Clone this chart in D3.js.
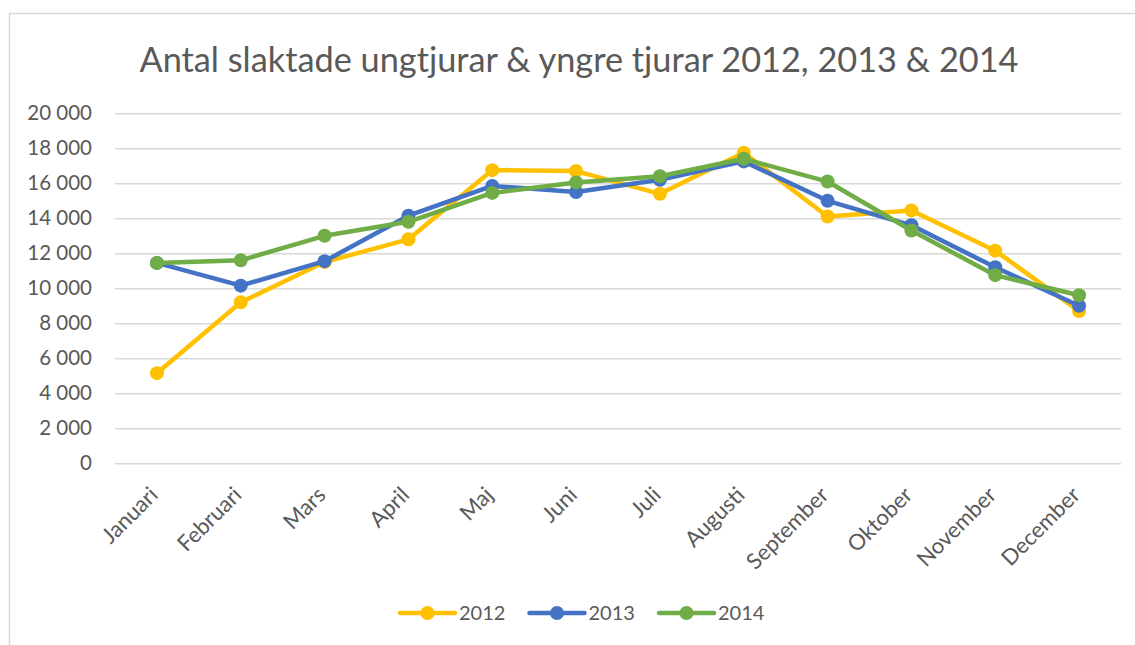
<!DOCTYPE html>
<html>
<head>
<meta charset="utf-8">
<script src="https://cdn.jsdelivr.net/npm/d3@7"></script>
<style>
	body { margin: 0; background: #fff; }
	text { font-family: Lato, 'Open Sans', sans-serif; fill: #595959; }
</style>
</head>
<body>
<svg id="chart"></svg>
<script>
const months = ['Januari', 'Februari', 'Mars', 'April', 'Maj', 'Juni', 'Juli', 'Augusti', 'September', 'Oktober', 'November', 'December']
const years = ['2012', '2013', '2014']
const values2012 = [5150, 9200, 11500, 12800, 16750, 16700, 15400, 17750, 14100, 14450, 12150, 8700]
const values2013 = [11450, 10150, 11550, 14150, 15850, 15500, 16200, 17250, 15000, 13600, 11200, 9000]
const values2014 = [11450, 11600, 13000, 13800, 15450, 16050, 16400, 17400, 16100, 13300, 10750, 9600]
const yTicks = [0, 2000, 4000, 6000, 8000, 10000, 12000, 14000, 16000, 18000, 20000]
const colors = ['#FFC000', '#4472C4', '#70AD47']

const width = 1135,
	height = 645

const svg = d3.select('#chart')
	.attr('width', width)
	.attr('height', height)

// chart frame
svg.append('rect')
	.attr('x', 9.5)
	.attr('y', 13.5)
	.attr('width', 1160)
	.attr('height', 700)
	.attr('fill', 'none')
	.attr('stroke', '#d9d9d9')
	.attr('stroke-width', 1.5)

svg.append('text')
	.attr('x', 579)
	.attr('y', 72)
	.attr('text-anchor', 'middle')
	.style('font-size', '34.3px')
	.text('Antal slaktade ungtjurar & yngre tjurar 2012, 2013 & 2014')

const x = d3.scaleBand()
	.domain(months)
	.range([115, 1121])

const y = d3.scaleLinear()
	.domain([0, 20000])
	.range([463.3, 113.3])

const fmt = d => d3.format(',')(d).replace(',', ' ')

// gridlines + y labels
const yAxis = svg.append('g')
	.attr('transform', 'translate(115,0)')
	.call(d3.axisLeft(y).tickValues(yTicks).tickSize(-(1121 - 115)).tickFormat(fmt).tickPadding(23))
yAxis.select('.domain').remove()
yAxis.selectAll('line').attr('stroke', '#d9d9d9').attr('stroke-width', 1.5)
yAxis.selectAll('text')
	.attr('fill', '#595959')
	.style('font-family', 'Lato, sans-serif')
	.style('font-size', '20.5px')

// x labels
const xAxis = svg.append('g')
	.attr('transform', 'translate(0,463)')
	.call(d3.axisBottom(x).tickSize(0).tickPadding(0))
xAxis.select('.domain').remove()
xAxis.selectAll('text')
	.attr('fill', '#595959')
	.style('font-family', 'Lato, sans-serif')
	.style('font-size', '22px')
	.attr('text-anchor', 'end')
	.attr('transform', 'translate(-7,24) rotate(-45)')
	.attr('dy', '0.6em')
	.attr('y', 0)

const series = [values2012, values2013, values2014]
const cx = (d, i) => x(months[i]) + x.bandwidth() / 2

const line = d3.line()
	.x(cx)
	.y(d => y(d))

series.forEach((vals, k) => {
	const g = svg.append('g')
	g.append('path')
		.datum(vals)
		.attr('d', line)
		.attr('fill', 'none')
		.attr('stroke', colors[k])
		.attr('stroke-width', 4.5)
		.attr('stroke-linejoin', 'round')
		.attr('stroke-linecap', 'round')
	g.selectAll('circle')
		.data(vals)
		.enter()
		.append('circle')
		.attr('cx', cx)
		.attr('cy', d => y(d))
		.attr('r', 7)
		.attr('fill', colors[k])
})

// legend
const legend = svg.append('g')
	.selectAll('g')
	.data(years)
	.enter()
	.append('g')
	.attr('transform', (d, i) => 'translate(' + (400 + i * 129.5) + ',613)')
legend.append('line')
	.attr('x1', 0)
	.attr('x2', 55)
	.attr('stroke', (d, i) => colors[i])
	.attr('stroke-width', 4.5)
	.attr('stroke-linecap', 'round')
legend.append('circle')
	.attr('cx', 27.5)
	.attr('r', 7)
	.attr('fill', (d, i) => colors[i])
legend.append('text')
	.attr('x', 59)
	.attr('dy', '0.36em')
	.style('font-size', '20px')
	.text(d => d)
</script>
</body>
</html>
